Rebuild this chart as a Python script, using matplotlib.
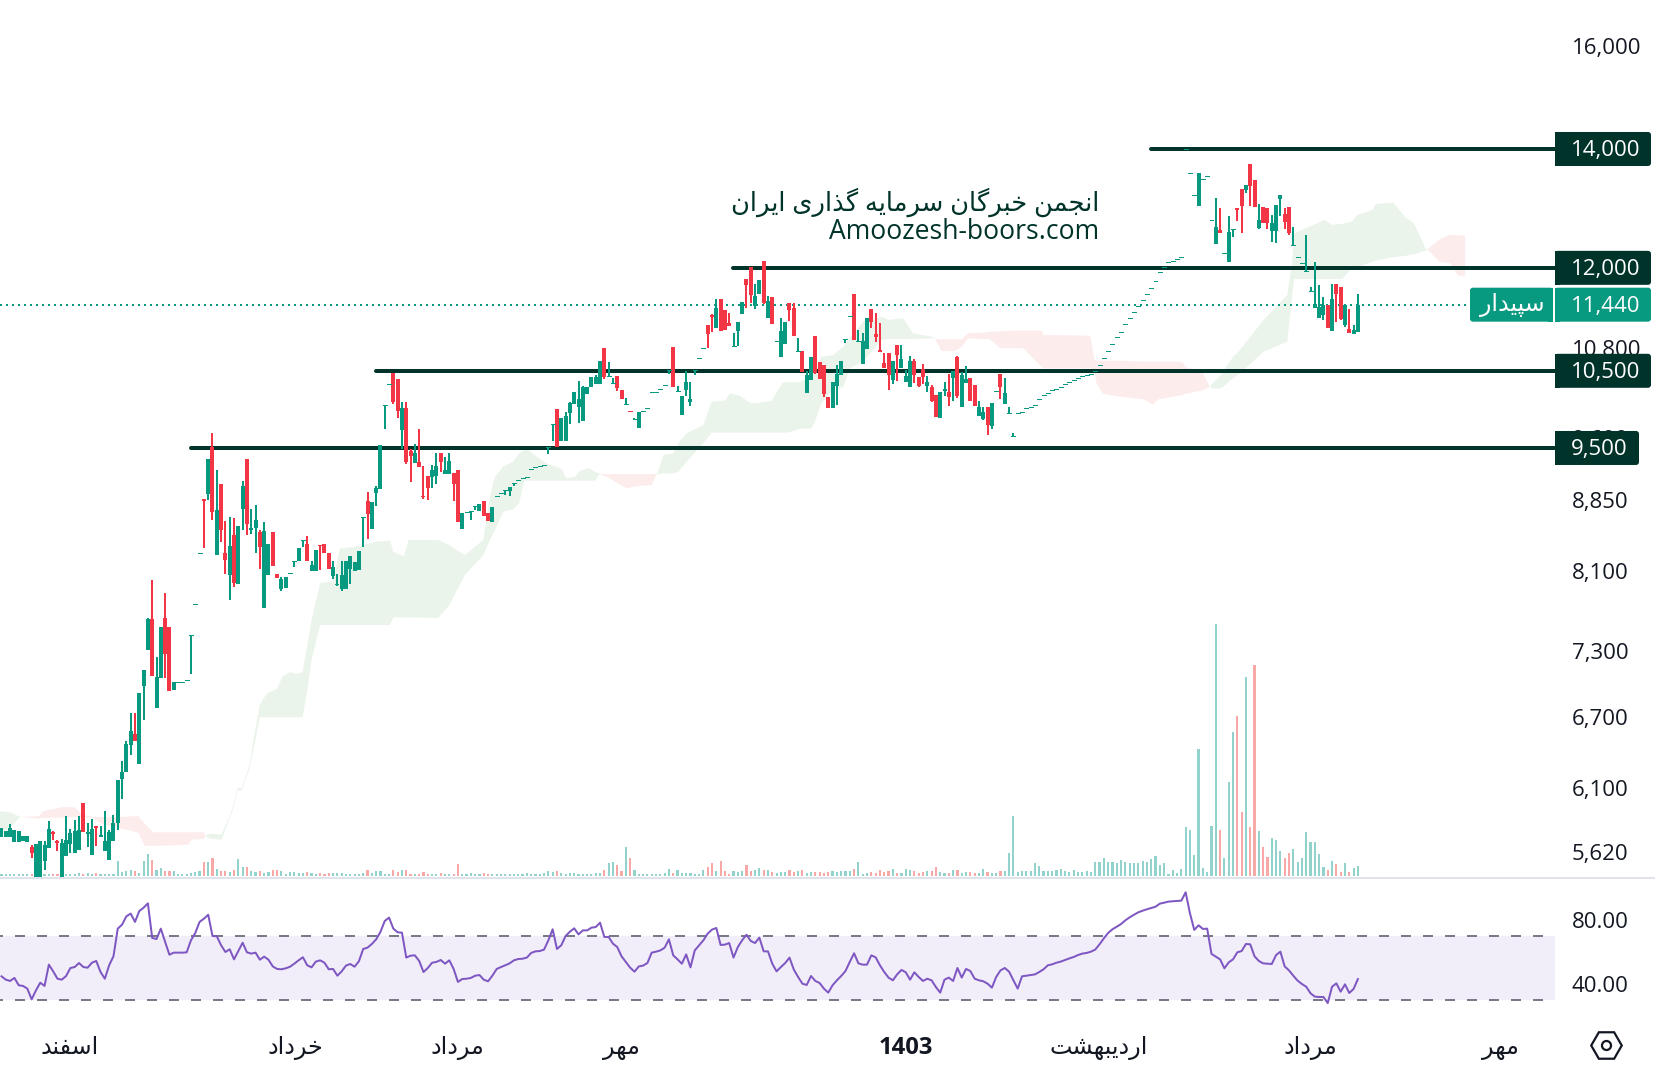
import numpy as np
import matplotlib
matplotlib.use("Agg")
import matplotlib.pyplot as plt
from matplotlib.patches import FancyBboxPatch, Rectangle
from matplotlib.ticker import NullLocator

plt.rcParams['font.family'] = ['Open Sans', 'DejaVu Sans']

# Candles, one value per day
opens = [5733,5733,5733,5697,5697,5704,5697,5665,5380,5380,
    5560,5657,5773,5704,5380,5595,5687,5615,5640,5996,
    5761,5603,5815,5733,5635,5566,5704,5839,6186,6239,
    6463,6557,6302,6980,7310,7608,6780,7054,7624,7536,
    6937,7014,7014,7031,7453,7755,8295,8888,8953,9510,
    8266,9072,8290,8056,8489,7966,8778,9365,8536,8558,
    8515,7722,8056,8515,8067,7914,7925,8083,8208,8204,
    8426,8388,8095,8095,8376,8388,8295,8050,7950,7914,
    7914,8123,8095,8105,8692,8868,8547,8965,9012,10045,
    10318,10475,10390,9724,10006,9463,9316,9329,8927,9160,
    9149,9160,9438,9184,9184,9196,9232,8553,8739,8754,
    8811,8754,8869,8731,8630,8923,8958,8996,8984,9078,
    9113,9137,9145,9240,9264,9276,9288,9512,9800,9993,
    9587,9587,9941,10058,10019,9838,10190,10282,10323,10323,
    10816,10426,10332,10430,10242,10053,9963,9860,9750,9963,
    10002,10212,10220,10251,10305,10510,10830,10225,9915,10242,
    10084,10510,10671,10812,11143,11290,11100,11526,11363,11172,
    10844,11057,11305,11828,12012,11422,11600,12107,11245,11556,
    10914,10689,10872,11466,11393,10769,10773,10203,10376,10984,
    10622,10580,10154,10006,10296,10444,10942,11270,11600,10914,
    10590,10802,11378,11013,10787,10607,10745,10376,10858,10540,
    10350,10282,10635,10417,10524,10296,10282,10176,9877,10229,
    10216,10403,10689,10019,10336,10403,10309,9902,9864,10019,
    9775,10225,10457,10058,9937,9645,9945,9958,10002,10015,
    10041,10119,10172,10198,10238,10251,10278,10318,10345,10372,
    10400,10426,10440,10453,10493,10573,10671,10769,10867,10970,
    11037,11158,11240,11333,11427,11505,11600,11690,11796,11930,
    12008,12087,12108,12135,12172,13994,13565,13184,13004,13460,
    13512,12764,12383,12604,12230,12097,12615,12970,13292,13275,
    13730,13448,12632,12982,12970,12588,12588,13120,12868,12987,
    12362,12166,12071,11950,11640,11398,11246,11288,11435,11057,
    11750,11705,11143,11086,11013,11042]
highs = [5802,5778,5834,5790,5778,5741,5741,5680,5687,5704,
    5704,5858,5783,5717,5722,5892,5795,5863,5892,5996,
    5839,5875,5820,5815,5931,5785,5900,6176,6328,6498,
    6736,6741,6910,7127,7617,8007,7246,7536,7876,7536,
    7017,7014,7014,7031,7453,7755,8295,8888,9365,9680,
    9233,9072,8637,8685,8678,8586,9096,9365,8782,8822,
    8543,8629,8388,8515,8067,8033,8037,8083,8208,8343,
    8426,8478,8200,8320,8376,8388,8295,8200,8067,8200,
    8200,8256,8190,8310,8692,8976,8857,9048,9535,10045,
    10318,10475,10390,10084,10084,9483,9549,9737,9280,9160,
    9292,9438,9438,9389,9438,9196,9232,8731,8739,8754,
    8811,8835,8869,8731,8800,8923,8958,8996,9032,9078,
    9113,9137,9145,9240,9264,9276,9288,9512,9800,9993,
    9877,9954,10084,10216,10363,10296,10282,10417,10444,10635,
    10816,10622,10403,10430,10242,10137,9963,9877,9954,9963,
    10002,10212,10220,10251,10305,10510,10830,10296,10163,10498,
    10350,10510,10671,10812,11143,11305,11526,11526,11363,11318,
    11028,11187,11481,11828,12012,11752,11813,12107,11571,11556,
    10914,11245,11187,11466,11466,10956,10773,10498,10689,10984,
    10622,10580,10154,10350,10580,10635,10942,11270,11600,11070,
    11028,11245,11378,11318,11172,10745,10745,10635,10858,10858,
    10510,10703,10662,10417,10590,10430,10309,10176,10216,10350,
    10457,10498,10703,10484,10564,10403,10309,10097,10019,10019,
    10071,10225,10457,10403,10019,9687,9945,9958,10002,10015,
    10041,10119,10172,10198,10238,10251,10278,10318,10345,10372,
    10400,10426,10440,10453,10493,10573,10671,10769,10867,10970,
    11037,11158,11240,11333,11427,11505,11600,11690,11796,11930,
    12008,12087,12108,12135,12172,13994,13565,13184,13572,13460,
    13512,12764,13138,12970,12230,12835,12615,12970,13292,13360,
    13730,13448,13035,12982,12970,12858,13020,13190,12970,12987,
    12653,12166,12071,12523,11700,12092,11736,11555,11435,11750,
    11750,11705,11450,11377,11143,11600]
lows = [5733,5733,5733,5697,5697,5704,5697,5580,5380,5380,
    5495,5657,5717,5635,5380,5595,5620,5615,5640,5771,
    5665,5603,5670,5733,5635,5566,5704,5785,6028,6239,
    6378,6493,6302,6673,7310,7069,6780,7054,7045,6928,
    6937,7014,7014,7031,7086,7755,8295,8345,8880,8657,
    8266,8413,8067,7800,7928,7966,8536,8489,8500,8295,
    8117,7722,8056,8150,8030,7887,7925,8083,8140,8204,
    8354,8200,8095,8095,8105,8292,8117,8017,7945,7893,
    7914,7966,8095,8105,8354,8445,8547,8810,9012,9737,
    10318,10058,9881,9487,9305,9090,9316,9268,8892,8880,
    9020,9066,9208,9184,9184,8869,8630,8553,8739,8653,
    8765,8754,8698,8641,8630,8923,8958,8938,8926,9043,
    9113,9137,9145,9240,9264,9276,9288,9426,9587,9512,
    9587,9587,9800,10058,9812,9838,10190,10282,10323,10323,
    10390,10426,10332,10229,10124,10053,9962,9851,9750,9963,
    10002,10212,10220,10251,10305,10457,10282,10225,9915,10163,
    10032,10444,10671,10812,10816,11040,11100,11057,11070,11129,
    10844,10848,11305,11393,11466,11378,11600,11452,11245,11158,
    10914,10689,10872,11201,10985,10769,10484,10203,10376,10457,
    10390,10150,10006,10006,10045,10444,10891,11270,10928,10914,
    10590,10802,11100,10900,10760,10540,10242,10323,10363,10540,
    10350,10282,10332,10282,10323,10216,10084,9890,9877,10163,
    10032,10097,10137,10019,10336,10097,10032,9902,9851,9662,
    9737,10225,10124,10058,9937,9645,9945,9958,10002,10015,
    10041,10119,10172,10198,10238,10251,10278,10318,10345,10372,
    10400,10426,10440,10453,10493,10573,10671,10769,10867,10970,
    11037,11158,11240,11333,11427,11505,11600,11690,11796,11930,
    12008,12087,12108,12135,12172,13994,13565,13184,13004,13460,
    13512,12764,12383,12560,12230,12097,12496,12753,12560,13230,
    13004,12982,12620,12720,12620,12410,12394,12835,12620,12523,
    12362,12166,12071,11950,11640,11398,11246,11215,11100,11057,
    11187,11215,11115,11033,11013,11042]
closes = [5802,5778,5802,5790,5778,5741,5741,5615,5687,5704,
    5680,5795,5759,5692,5692,5712,5766,5778,5790,5771,
    5771,5795,5800,5754,5709,5771,5839,6176,6239,6472,
    6580,6498,6910,7127,7610,7069,7057,7536,7272,6928,
    7017,7014,7014,7031,7453,7755,8295,8872,9365,8743,
    8763,8543,8212,8365,7973,8586,9048,8608,8558,8650,
    8358,8533,8388,8150,8030,8017,8037,8083,8208,8343,
    8426,8200,8157,8320,8365,8292,8117,8137,7963,8056,
    8200,8256,8190,8310,8692,8715,8857,9024,9535,10045,
    10318,10084,9967,10006,9329,9401,9438,9268,8911,9020,
    9232,9280,9329,9232,9340,9066,8630,8731,8739,8754,
    8811,8835,8698,8641,8800,8923,8958,8996,9032,9078,
    9113,9137,9145,9240,9264,9276,9288,9512,9800,9512,
    9877,9902,10071,10216,10124,10282,10282,10417,10417,10635,
    10417,10426,10332,10269,10124,10053,9962,9860,9954,9963,
    10002,10212,10220,10251,10305,10510,10282,10225,10163,10350,
    10124,10510,10671,10812,11013,11260,11393,11057,11070,11129,
    10844,11187,11481,11736,11586,11571,11813,11466,11496,11158,
    10914,11055,11187,11363,10985,10769,10484,10444,10689,10475,
    10390,10190,10006,10350,10457,10635,10942,11270,10928,10914,
    10914,11245,11187,10970,10760,10540,10444,10635,10717,10662,
    10430,10635,10444,10296,10417,10350,10097,9890,10216,10256,
    10150,10498,10163,10444,10390,10097,10032,10019,9954,9787,
    10071,10225,10282,10203,9937,9645,9945,9958,10002,10015,
    10041,10119,10172,10198,10238,10251,10278,10318,10345,10372,
    10400,10426,10440,10453,10493,10573,10671,10769,10867,10970,
    11037,11158,11240,11333,11427,11505,11600,11690,11796,11930,
    12008,12087,12108,12135,12172,13994,13565,13184,13572,13460,
    13512,12764,12654,12560,12230,12571,12615,12940,13004,13360,
    13345,12982,12770,12720,12720,12720,13020,13190,12736,12555,
    12362,12166,12071,11950,11640,11447,11402,11435,11100,11525,
    11600,11230,11435,11033,11071,11440]
volumes = [2,2,2,2,2,2,2,2,2,2,
    2,2,2,2,2,2,2,2,3,2,
    3,2,3,2,2,2,2,15,4,5,
    6,5,3,15,22,16,6,8,5,5,
    5,2,2,2,3,4,5,14,14,18,
    7,5,5,4,6,17,9,9,5,4,
    5,3,4,6,6,5,2,4,4,3,
    3,4,3,2,3,2,3,3,3,3,
    2,2,2,2,3,6,3,5,5,2,
    2,6,4,6,6,2,2,2,4,2,
    2,2,3,2,2,2,12,2,2,3,
    2,2,3,2,2,2,2,2,2,2,
    2,2,3,2,2,2,3,5,4,5,
    3,2,3,3,2,2,2,2,3,3,
    6,13,14,11,5,29,18,6,2,2,
    2,2,2,2,3,7,3,6,3,3,
    3,2,2,6,9,13,5,15,5,2,
    5,4,5,11,5,6,8,6,6,4,
    3,4,4,6,4,5,6,3,4,4,
    4,3,4,5,4,5,5,5,7,14,
    2,3,4,3,6,4,5,7,3,3,
    7,6,5,3,4,5,5,9,4,3,
    3,6,6,3,4,4,3,3,7,4,
    3,3,5,5,23,60,4,5,5,5,
    13,10,5,5,5,6,7,5,4,6,
    4,4,5,4,14,14,18,14,14,13,
    16,14,13,13,13,15,14,17,20,11,
    13,2,6,3,7,49,46,21,127,8,
    4,50,252,46,18,94,144,160,64,199,
    49,211,45,29,19,38,36,25,18,23,
    27,14,18,44,34,34,22,9,6,15,
    12,4,13,4,8,10]
rsi = [44.8,42.7,41.9,43.8,39.2,38.8,37.1,30.4,36,40.8,
    38.8,52.1,47.9,43.3,42.7,45,50,50.6,53.1,50.6,
    50.2,53.3,54.4,47.5,43.3,51.7,57.3,74.6,77.1,82.3,
    84,78.8,85.6,87.7,90.4,68.8,68.1,74.6,66.3,58.3,
    59.6,59.6,59.6,59.8,67.3,71.9,78.8,80.8,83.3,70,
    69.8,64.2,60,61.7,55.4,60.6,65.8,59.8,59,59.6,
    55.2,57.1,55.2,51,49.4,49.2,49.8,50.8,52.7,54.8,
    56.7,51.7,50.4,54,54.8,53.3,49.2,49.4,45.2,47.9,
    51.5,52.5,50.8,54.2,61.9,62.7,65,67.9,72.5,79.4,
    81.5,74.6,72.3,72.1,56.5,57.7,57.9,54.4,47.5,50,
    53.3,53.8,55,52.7,54.8,49.4,41.3,43.1,43.3,43.8,
    45.2,45.6,42.7,41.7,45.2,49.4,50.6,51.7,52.9,54.8,
    55.6,
    55.8,56.5,59.4,60.4,60.6,61.5,67.3,74.2,61.9,64.2,
    70,72.7,74.8,71,73.5,73.5,75.2,75.6,78.3,69.4,
    69.4,65.2,63.1,57.3,53.8,50.2,47.7,51,51.5,53.1,
    59.6,60.2,61,62.7,67.9,57.9,55.4,52.7,58.5,50.4,
    61,64.2,67.3,71.5,74,75,64.4,64.6,65.6,56.5,
    63.1,67.3,70.8,66.9,65.6,69,60.4,60.4,52.7,47.9,
    50.6,53.1,56.5,49,44.4,40.2,39.4,45,41.9,40.6,
    37.1,34.6,39.2,42.3,45,48.1,53.8,59.2,52.9,52.1,
    52.1,57.9,56.7,51.7,47.5,44,42.3,46,48.8,47.3,
    42.7,47.3,44.4,41.9,43.3,42.3,38.1,34.6,42.7,44,
    41.9,50,44,49.4,48.1,43.3,42.3,41.7,40.2,37.7,
    44.4,48.5,50,47.7,42.3,37.1,44.8,45.2,45.6,46,
    47.5,49.2,
    51.7,52.3,53.3,54,55,56,56.9,58.1,59,59.4,
    60.2,61.5,64.8,68.5,71.9,74.2,75.8,77.5,79.8,81.7,
    83.3,84.8,85.8,86.7,87.5,88.3,90.2,90.8,91.5,91.7,
    91.9,92.1,97.3,84.2,73.8,76.7,74.4,74.6,58.8,57.1,
    55.4,49.8,53.5,55.4,59.8,60.6,65,64.8,57.3,54.4,
    52.9,52.7,52.5,58.1,60.2,51,48.5,45.2,42.1,40,
    38.3,34.2,32.1,31.9,31.9,28.1,38.3,40.4,35.2,39.8,
    34.4,36.9,43.1]

# Ichimoku cloud edges, read at the bars where the outline bends
cloud_x = [-1,2,4.3,8.6,9.7,14.4,17,18.6,21.3,22.9,27.5,29.8,31.8,33.3,35.3,43.4,44.2,47,47.3,
    48.4,51.1,53.1,54.2,54.8,55.8,57.7,58.5,60,61.6,63.9,65.4,67,68.5,69.9,70.9,72,74,77,78.6,
    83.2,87.1,90.2,91,93.5,94.5,101.4,104,107.6,111.9,113.4,114.6,116.5,118.8,120.2,121.4,122.4,
    124.3,126.6,130,131.2,133.2,134.3,136.6,137.8,139,139.4,141.3,142.8,145.2,147.9,151,152.2,
    152.6,153.7,156,157.2,159.1,163,164.9,168,169.2,171.5,173.8,175,178.8,181.5,182.7,185.4,
    188.1,188.9,190.4,193.2,195.5,197,200.1,202.4,204.4,205.9,209.4,211.7,216,216.8,
    218.3,221.4,223,224.5,228,229.5,231.9,235,237.3,239.6,241.5,241.9,252.8,253.9,254.3,255.8,
    259.7,265.4,267.4,268.6,274.2,275,279,280.6,281.2,283.2,286,287.6,293.1,298.6,299.7,300.2,
    307.3,308.9,311.3,313.6,314.8,318.4,319.1,323.2,326,328,330.7,331.1,334,336.4,338.3,339.9]
span_a = [5931,5924,5887,5875,5880,5882,5887,5887,5882,5839,5802,5785,5766,5670,5670,5678,5717,5722,5745,
    5761,5754,5904,6017,6112,6112,6308,6508,6807,6910,6951,7069,7102,7086,7102,7326,7595,7973,7990,8338,
    8365,8413,8425,8302,8256,8432,8432,8376,8268,8432,8920,9152,9272,9332,9435,9475,9475,
    9393,9312,9248,9133,9152,9224,9256,9208,9192,9176,9133,9082,9016,9043,9055,9184,
    9232,9414,9434,9558,9683,9787,10088,10102,10198,10163,10075,10067,10097,10345,10345,10345,
    10422,10488,10694,10717,10834,10952,11192,11216,11265,11216,11240,11023,10975,10942,
    10773,10773,10834,10952,10942,10938,10812,10812,10812,10671,10555,10533,10533,10466,10332,10190,
    10154,10118,10045,10118,10175,10190,10240,10285,10330,10442,10694,10787,11215,11585,12071,12550,
    12770,12688,12704,12743,12852,12936,13035,13058,12813,12714,12308,12292,12097,12071,11879,11879]
span_b = [5766,5802,5887,5892,5931,5965,5960,5907,5887,5887,5887,5892,5892,5834,5771,5771,5771,5771,5745,
    5722,5717,5887,5990,6093,6093,6280,6420,6700,6700,6700,6700,6700,6700,6700,6910,7214,7551,7551,7551,
    7551,7551,7551,7626,7626,7626,7620,7749,8057,8268,8432,8540,8747,8773,8842,9105,9105,
    9105,9105,9105,9105,9105,9105,9105,9105,9192,9184,9184,9184,9184,9184,9184,9184,
    9184,9192,9192,9212,9332,9558,9691,9691,9691,9691,9691,9691,9691,9691,9691,9737,
    9746,9830,10067,10242,10287,10533,10627,10787,10928,10942,10942,10942,10952,10942,
    10938,10938,10938,11023,11033,11042,11052,11062,11062,11062,11062,10999,10990,10640,10640,10640,
    10640,10625,10625,10625,10625,10556,10465,10285,10263,10263,10397,10465,10764,10905,11560,11827,
    11827,11827,11827,11993,12009,12097,12113,12166,12187,12213,12270,12292,12454,12525,12519,12509]

levels = [9500, 10500, 12000, 14000]
level_starts = [44, 87, 169.9, 267]
level_labels = ["9,500", "10,500", "12,000", "14,000"]
price_ticks = [5625, 6110, 6700, 7300, 8100, 8875, 9620, 10820, 16000]
price_tick_labels = ["5,620", "6,100", "6,700", "7,300", "8,100", "8,850", "9,600", "10,800", "16,000"]
rsi_ticks = [40, 80]
month_ticks = [15.9, 68.2, 105.8, 143.9, 210, 254.9, 303.9, 348]
month_labels = ["اسفند", "خرداد", "مرداد", "مهر", "1403", "اردیبهشت", "مرداد", "مهر"]
symbol = "سپیدار"
watermark_fa = "انجمن خبرگان سرمایه گذاری ایران"
watermark_en = "Amoozesh-boors.com"

assert len(opens) == len(highs) == len(lows) == len(closes) == len(volumes) == len(rsi) == 316, \
    (len(opens), len(highs), len(lows), len(closes), len(volumes), len(rsi))
assert len(cloud_x) == len(span_a) == len(span_b), (len(cloud_x), len(span_a), len(span_b))

# matplotlib does no arabic shaping, so pick the joined forms by hand
FORMS = {
    'ا': (0xFE8D, 0xFE8E), 'د': (0xFEA9, 0xFEAA), 'ذ': (0xFEAB, 0xFEAC), 'ر': (0xFEAD, 0xFEAE),
    'ب': (0xFE8F, 0xFE90, 0xFE91, 0xFE92), 'پ': (0xFB56, 0xFB57, 0xFB58, 0xFB59),
    'ت': (0xFE95, 0xFE96, 0xFE97, 0xFE98), 'ج': (0xFE9D, 0xFE9E, 0xFE9F, 0xFEA0),
    'خ': (0xFEA5, 0xFEA6, 0xFEA7, 0xFEA8), 'س': (0xFEB1, 0xFEB2, 0xFEB3, 0xFEB4),
    'ش': (0xFEB5, 0xFEB6, 0xFEB7, 0xFEB8), 'ف': (0xFED1, 0xFED2, 0xFED3, 0xFED4),
    'گ': (0xFB92, 0xFB93, 0xFB94, 0xFB95), 'م': (0xFEE1, 0xFEE2, 0xFEE3, 0xFEE4),
    'ن': (0xFEE5, 0xFEE6, 0xFEE7, 0xFEE8), 'ه': (0xFEE9, 0xFEEA, 0xFEEB, 0xFEEC),
    'ی': (0xFBFC, 0xFBFD, 0xFBFE, 0xFBFF),
}


def shape_fa(s):
    out = []
    for k, ch in enumerate(s):
        if ch not in FORMS:
            out.append(ch)
            continue
        forms = FORMS[ch]
        prev = s[k - 1] if k > 0 else ''
        nxt = s[k + 1] if k + 1 < len(s) else ''
        join_prev = prev in FORMS and len(FORMS[prev]) == 4
        join_next = nxt in FORMS and len(forms) == 4
        if join_prev and join_next:
            code = forms[3]
        elif join_prev:
            code = forms[1]
        elif join_next:
            code = forms[2]
        else:
            code = forms[0]
        out.append(chr(code))
    return ''.join(out[::-1]) if any(c in FORMS for c in s) else s


GREEN = '#089981'
RED = '#F23645'
DARK = '#00332A'
TEXT = '#131722'
W, H = 1656, 1072
STEP = 4.306  # pixels per bar

x = np.arange(len(opens))
o = np.array(opens, float)
h = np.array(highs, float)
l = np.array(lows, float)
c = np.array(closes, float)
up = c >= o
colors = np.where(up, GREEN, RED)
vol_colors = np.where(up, '#92D2CC', '#F7A9A7')

fig = plt.figure(figsize=(W / 100, H / 100), dpi=100, facecolor='white')
xlim = (-1.5 / STEP, (W - 1.5) / STEP)

# volume sits behind the price pane
vol_ax = fig.add_axes([0, (H - 877) / H, 1, 877 / H], zorder=0)
vol_ax.bar(x, volumes, width=0.5, color=vol_colors, linewidth=0, antialiased=False)
vol_ax.set_xlim(xlim)
vol_ax.set_ylim(-1, 876)
vol_ax.axis('off')

ax = fig.add_axes([0, (H - 877) / H, 1, 877 / H], zorder=1)
ax.patch.set_visible(False)
ax.set_yscale('log')
ax.set_xlim(xlim)
ax.set_ylim(5446, 16984)

a = np.array(span_a, float)
b = np.array(span_b, float)
ax.fill_between(cloud_x, a, b, where=a >= b, color='#EBF4EB', linewidth=0, zorder=1)
ax.fill_between(cloud_x, a, b, where=a <= b, color='#FDECEC', linewidth=0, zorder=1)

ax.hlines(levels, level_starts, (1555 - 1.5) / STEP, color=DARK, lw=2.88, capstyle='round', zorder=2)
ax.axhline(closes[-1], xmax=1470 / W, color=GREEN, lw=1.44, ls=(0, (1, 2)), zorder=2.5)

ax.vlines(x, l, h, colors=colors, lw=1.44, antialiased=False, zorder=3)
flat = np.abs(o - c) < 2
ax.vlines(x[~flat], o[~flat], c[~flat], colors=colors[~flat], lw=2.88, capstyle='butt',
          antialiased=False, zorder=3)
ax.hlines(o[flat], x[flat] - 0.46, x[flat] + 0.46, colors=colors[flat], lw=0.72,
          antialiased=False, zorder=3)

ax.yaxis.tick_right()
ax.set_yticks(price_ticks, price_tick_labels)
ax.yaxis.set_minor_locator(NullLocator())
ax.tick_params(axis='y', which='both', length=0, pad=-60.5, labelsize=16, labelcolor=TEXT)
ax.set_xticks([])
for sp in ax.spines.values():
    sp.set_visible(False)

# rsi pane
rax = fig.add_axes([0, (H - 1022) / H, 1, 144 / H], zorder=1)
rax.set_xlim(xlim)
rax.set_ylim(16.25, 106.25)
rax.axhspan(30, 70, xmin=0, xmax=1555 / W, color='#F2EEF9', linewidth=0, zorder=1)
rax.axhline(70, xmax=1553 / W, color='#787B86', lw=1.44, ls=(3.5, (5, 6)), zorder=2)
rax.axhline(30, xmax=1553 / W, color='#787B86', lw=1.44, ls=(3.5, (5, 6)), zorder=2)
rax.plot(x, rsi, color='#7E57C2', lw=1.44, zorder=3)
rax.yaxis.tick_right()
rax.set_yticks(rsi_ticks, [f'{t:.2f}' for t in rsi_ticks])
rax.tick_params(axis='y', length=0, pad=-60.5, labelsize=16, labelcolor=TEXT)
rax.set_xticks(month_ticks, [shape_fa(t) for t in month_labels])
rax.tick_params(axis='x', length=0, pad=10, labelsize=17.2, labelcolor=TEXT)
for t in rax.get_xticklabels():
    if t.get_text() == '1403':
        t.set_fontweight('bold')
for sp in rax.spines.values():
    sp.set_visible(False)

# badges, icon and separator in pixel coordinates
ui = fig.add_axes([0, 0, 1, 1], zorder=5)
ui.set_xlim(0, W)
ui.set_ylim(H, 0)
ui.axis('off')
ui.axhline(877.5, color='#E0E3EB', lw=1.44)


def price_y(p):
    return H - ax.transData.transform((0, p))[1]


def badge(x0, x1, yc, color, round_right=True):
    ui.add_patch(FancyBboxPatch((x0, yc - 17), x1 - x0, 34, boxstyle='round,pad=0,rounding_size=3',
                                fc=color, ec='none', zorder=6))
    xs = x0 if round_right else x1 - 5
    ui.add_patch(Rectangle((xs, yc - 17), 5, 34, fc=color, ec='none', zorder=6))


for p, lab in zip(levels, level_labels):
    yc = price_y(p)
    badge(1555, 1639 if len(lab) == 5 else 1651, yc, DARK)
    ui.text(1571, yc + 1.5, lab, color='white', fontsize=16, va='center', ha='left', zorder=7)

yc = price_y(closes[-1])
badge(1555, 1651, yc, GREEN)
ui.text(1571, yc + 1.5, f'{closes[-1]:,}', color='white', fontsize=16, va='center', ha='left', zorder=7)
badge(1470, 1553, yc, GREEN, round_right=False)
ui.text(1512, yc, shape_fa(symbol), color='white', fontsize=17, va='center', ha='center', zorder=7)

ui.text(1099, 202, shape_fa(watermark_fa), color=DARK, fontsize=18.5, va='center', ha='right', zorder=7)
ui.text(1099, 232, watermark_en, color=DARK, fontsize=19.1, va='center', ha='right', zorder=7)

ui.plot([1606], [1045], marker='H', ms=22, mfc='none', mec=TEXT, mew=1.6, ls='none')
ui.plot([1606], [1045], marker='o', ms=6.5, mfc='none', mec=TEXT, mew=1.6, ls='none')

fig.savefig('out.png', dpi=100)
